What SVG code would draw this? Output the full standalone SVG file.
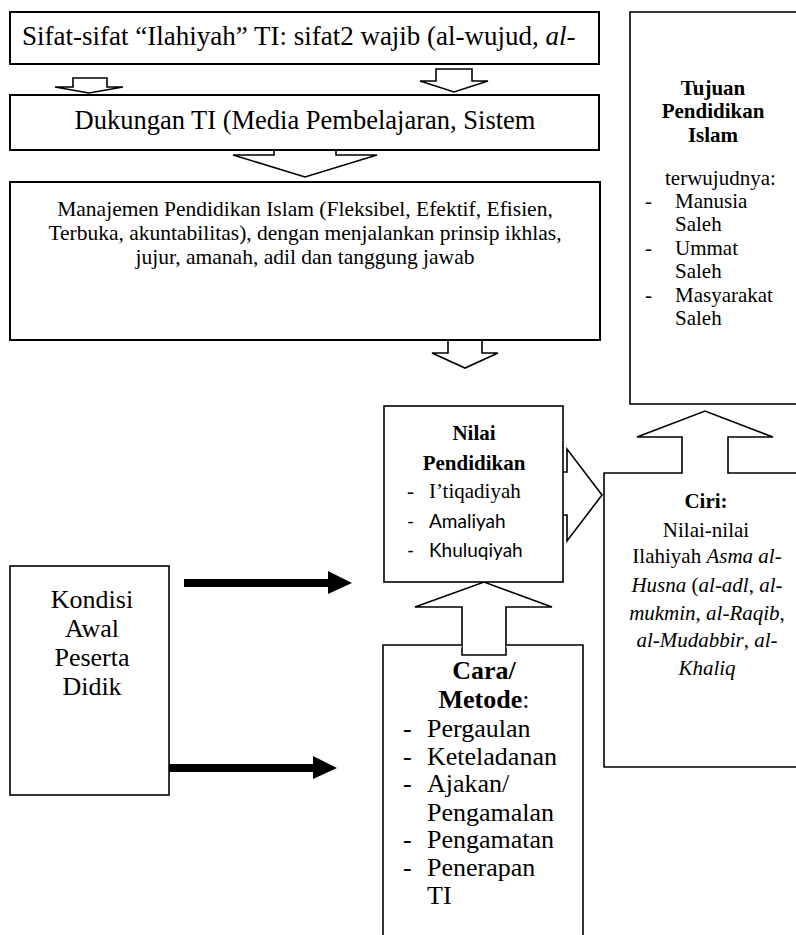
<svg xmlns="http://www.w3.org/2000/svg" width="796" height="935" viewBox="0 0 796 935">
  <style>
    .box { fill: #fff; stroke: #000; stroke-width: 1.6; }
    .boxh { fill: #fff; stroke: #000; stroke-width: 2; }
    .blk { fill: #fff; stroke: #000; stroke-width: 1.6; stroke-linejoin: miter; }
    .solid { fill: #000; stroke: none; }
    text { font-family: "Liberation Serif", "Times New Roman", serif; fill: #000; }
    .sans { font-family: Lato, "Open Sans", "Liberation Sans", sans-serif; }
    .b { font-weight: bold; }
    .i { font-style: italic; }
    .c { text-anchor: middle; }
  </style>
  <rect width="796" height="935" fill="#fff"/>

  <!-- block arrows and solid arrows -->
  <g id="connectors">
    <!-- Sifat -> Dukungan (left) -->
    <polygon class="blk" points="73,78 107,78 107,87 123,87 89,93 55,87 73,87"/>
    <!-- Sifat -> Dukungan (right) -->
    <polygon class="blk" points="436,69 472,69 472,81 488,81 454,92 420,81 436,81"/>
    <!-- Dukungan -> Manajemen -->
    <polygon class="blk" points="274,140 336,140 336,155 377,155 305,177 233,155 274,155"/>
    <!-- Manajemen -> Nilai -->
    <polygon class="blk" points="448,338 482,338 482,353 498,353 465,368 432,353 448,353"/>
    <!-- Nilai -> Ciri -->
    <polygon class="blk" points="550,472 567,472 567,449 602,495 567,541 567,515 550,515"/>
    <!-- Cara -> Nilai -->
    <polygon class="blk" points="462,655 462,607 415,607 484,582 552,607 506,607 506,655"/>
    <!-- Kondisi -> Nilai -->
    <polygon class="solid" points="184,579 328,579 328,571 352,583 328,594 328,587 184,587"/>
    <!-- Kondisi -> Cara -->
    <polygon class="solid" points="169,764 313,764 313,756 337,768 313,779 313,772 169,772"/>
  </g>

  <g id="sifat">
    <rect class="boxh" x="10" y="12" width="589" height="52"/>
    <text x="22" y="45" font-size="27">Sifat-sifat “Ilahiyah” TI: sifat2 wajib (al-wujud, <tspan class="i">al-</tspan></text>
  </g>

  <g id="dukungan">
    <rect class="boxh" x="10" y="95" width="589" height="55"/>
    <text class="c" x="305" y="129" font-size="26.5">Dukungan TI (Media Pembelajaran, Sistem</text>
  </g>

  <g id="manajemen">
    <rect class="boxh" x="10" y="182" width="590" height="158"/>
    <text class="c" x="305" y="216" font-size="21.5">Manajemen Pendidikan Islam (Fleksibel, Efektif, Efisien,</text>
    <text class="c" x="305" y="240" font-size="21.5">Terbuka, akuntabilitas), dengan menjalankan prinsip ikhlas,</text>
    <text class="c" x="305" y="264" font-size="21.5">jujur, amanah, adil dan tanggung jawab</text>
  </g>

  <g id="tujuan">
    <rect class="box" x="630" y="12" width="170" height="392"/>
    <text class="c b" x="713" y="95" font-size="21">Tujuan</text>
    <text class="c b" x="713" y="118" font-size="21">Pendidikan</text>
    <text class="c b" x="713" y="142" font-size="21">Islam</text>
    <text x="665" y="185" font-size="21">terwujudnya:</text>
    <text x="645" y="208" font-size="21">-</text>
    <text x="675" y="208" font-size="21">Manusia</text>
    <text x="675" y="231" font-size="21">Saleh</text>
    <text x="645" y="255" font-size="21">-</text>
    <text x="675" y="255" font-size="21">Ummat</text>
    <text x="675" y="278" font-size="21">Saleh</text>
    <text x="645" y="302" font-size="21">-</text>
    <text x="675" y="302" font-size="21">Masyarakat</text>
    <text x="675" y="325" font-size="21">Saleh</text>
  </g>

  <g id="nilai">
    <rect class="box" x="384" y="406" width="179" height="176"/>
    <text class="c b" x="474" y="440" font-size="21">Nilai</text>
    <text class="c b" x="474" y="470" font-size="21">Pendidikan</text>
    <text x="407" y="498" font-size="21">-</text>
    <text x="429" y="498" font-size="21">I’tiqadiyah</text>
    <text class="sans" x="407" y="528" font-size="19">-</text>
    <text class="sans" x="429" y="528" font-size="19">Amaliyah</text>
    <text class="sans" x="407" y="557" font-size="19">-</text>
    <text class="sans" x="429" y="557" font-size="19">Khuluqiyah</text>
  </g>

  <g id="ciri">
    <!-- box outline merged with the upward block arrow to Tujuan -->
    <path class="blk" d="M604,767 L604,473 L682,473 L682,437 L637,437 L705,411 L773,437 L728,437 L728,473 L800,473 L800,767 Z"/>
    <text class="c b" x="706" y="508" font-size="21">Ciri:</text>
    <text class="c" x="706" y="537" font-size="21">Nilai-nilai</text>
    <text class="c" x="707" y="563" font-size="21">Ilahiyah <tspan class="i">Asma al-</tspan></text>
    <text class="c" x="707" y="592" font-size="21"><tspan class="i">Husna</tspan> (<tspan class="i">al-adl</tspan>, <tspan class="i">al-</tspan></text>
    <text class="c" x="707" y="620" font-size="21"><tspan class="i">mukmin, al-Raqib</tspan>,</text>
    <text class="c" x="707" y="647" font-size="21"><tspan class="i">al-Mudabbir</tspan>, <tspan class="i">al-</tspan></text>
    <text class="c i" x="707" y="675" font-size="21">Khaliq</text>
  </g>

  <g id="cara">
    <path class="blk" d="M383,940 L383,645 L462,645 M506,645 L583,645 L583,940"/>
    <text class="c b" x="484" y="679" font-size="26">Cara/</text>
    <text class="c" x="484" y="708" font-size="26"><tspan class="b">Metode</tspan>:</text>
    <text x="403" y="737" font-size="26">-</text>
    <text x="427" y="737" font-size="26">Pergaulan</text>
    <text x="403" y="765" font-size="26">-</text>
    <text x="427" y="765" font-size="26">Keteladanan</text>
    <text x="403" y="792" font-size="26">-</text>
    <text x="427" y="792" font-size="26">Ajakan/</text>
    <text x="427" y="821" font-size="26">Pengamalan</text>
    <text x="403" y="848" font-size="26">-</text>
    <text x="427" y="848" font-size="26">Pengamatan</text>
    <text x="403" y="876" font-size="26">-</text>
    <text x="427" y="876" font-size="26">Penerapan</text>
    <text x="427" y="904" font-size="26">TI</text>
  </g>

  <g id="kondisi">
    <rect class="box" x="10" y="566" width="159" height="229"/>
    <text class="c" x="92" y="608" font-size="26">Kondisi</text>
    <text class="c" x="92" y="637" font-size="26">Awal</text>
    <text class="c" x="92" y="666" font-size="26">Peserta</text>
    <text class="c" x="92" y="695" font-size="26">Didik</text>
  </g>
</svg>
